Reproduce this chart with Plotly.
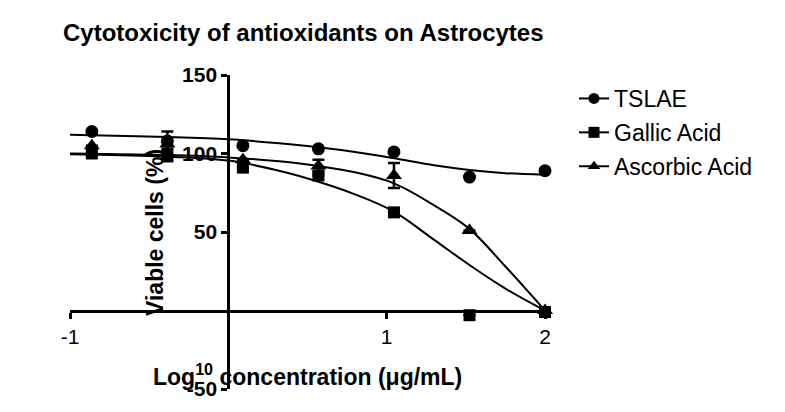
import plotly.graph_objects as go

# Data points (log10 concentration, % viable cells)
log_conc = [-0.862, -0.385, 0.092, 0.569, 1.046, 1.523, 2.0]
tslae = [114, 108, 105, 103, 101, 85, 89]
gallic = [100, 99, 91, 86, 62.5, -3, -1]
ascorbic = [105, 106, 96, 92, 86, 51, 0]
ascorbic_err = [0, 8, 0, 4, 8, 0, 0]
gallic_err = [0, 4, 0, 0, 0, 0, 0]

# Fitted curves
curve_x = [-1.0, -0.862, -0.385, 0.0, 0.32, 0.569, 0.8, 1.046, 1.3, 1.523, 1.75, 2.0]
tslae_fit = [112, 111.7, 110.5, 109, 106.5, 104, 101, 97, 92.5, 89.5, 87.5, 86.5]
gallic_fit = [99.5, 99.3, 98, 95.5, 89, 82, 74, 63, 45, 29, 14, 0]
ascorbic_fit = [100, 99.8, 99, 97.5, 95, 92, 88, 81, 67, 52, 28, 0]

names = ["TSLAE", "Gallic Acid", "Ascorbic Acid"]
symbols = ["circle", "square", "triangle-up"]
sizes = [13, 12, 14]

x_ticks = [-1, 1, 2]
y_ticks = [-50, 50, 100, 150]

FONT = "Liberation Sans, Arial, sans-serif"

fig = go.Figure()

fits = [tslae_fit, gallic_fit, ascorbic_fit]
pts = [tslae, gallic, ascorbic]
errs = [None, gallic_err, ascorbic_err]

for i in range(3):
    fig.add_trace(go.Scatter(
        x=curve_x, y=fits[i], mode="lines", line=dict(color="black", width=2, shape="spline"),
        showlegend=False, hoverinfo="skip", cliponaxis=False))
for i in range(3):
    ey = None
    if errs[i] is not None:
        ey = dict(type="data", array=errs[i], visible=True, color="black", thickness=2.5, width=6)
    fig.add_trace(go.Scatter(
        x=log_conc, y=pts[i], mode="markers",
        marker=dict(symbol=symbols[i], size=sizes[i], color="black"),
        error_y=ey, showlegend=False, cliponaxis=False))
for i in range(3):
    fig.add_trace(go.Scatter(
        x=[None], y=[None], mode="lines+markers", name=names[i],
        line=dict(color="black", width=2),
        marker=dict(symbol=symbols[i], size=11, color="black"),
        legendgroup=names[i]))

fig.update_layout(
    width=785, height=412,
    margin=dict(l=70, r=240, t=75, b=17),
    paper_bgcolor="white", plot_bgcolor="white",
    font=dict(family=FONT, color="black"),
    title=dict(text="Cytotoxicity of antioxidants on Astrocytes", xref="container", yref="container",
               x=63 / 785, xanchor="left", y=1 - 33 / 412, yanchor="middle",
               font=dict(size=24, weight="bold", family=FONT, color="black")),
    xaxis=dict(range=[-1, 2], anchor="free", position=0.25, showgrid=False, zeroline=False,
               showline=True, linecolor="black", linewidth=3,
               ticks="outside", ticklen=6, tickwidth=3, tickcolor="black",
               tickvals=x_ticks, ticktext=[str(v) for v in x_ticks],
               tickfont=dict(size=21, family=FONT, color="black")),
    yaxis=dict(range=[-50, 150], anchor="free", position=1 / 3, showgrid=False, zeroline=False,
               showline=True, linecolor="black", linewidth=3,
               ticks="outside", ticklen=6, tickwidth=3, tickcolor="black",
               tickvals=y_ticks, ticktext=[str(v) for v in y_ticks],
               tickfont=dict(size=21, weight="bold", family=FONT, color="black")),
    legend=dict(xref="container", yref="container", x=574 / 785, y=1 - 77 / 412,
                xanchor="left", yanchor="top", font=dict(size=23, family=FONT, color="black"),
                tracegroupgap=1, itemwidth=30, bgcolor="rgba(0,0,0,0)"),
    annotations=[
        dict(text="Log<sup>10</sup> concentration (μg/mL)", xref="paper", yref="paper",
             x=(307 - 70) / 475, y=(395 - 381) / 320, xanchor="center", yanchor="middle",
             showarrow=False, font=dict(size=23, weight="bold", family=FONT, color="black")),
        dict(text="Viable cells (%)", xref="paper", yref="paper", textangle=-90,
             x=(155 - 70) / 475, y=(395 - 236) / 320, xanchor="center", yanchor="middle",
             showarrow=False, font=dict(size=23, weight="bold", family=FONT, color="black")),
    ],
)

fig.write_html("out.html")
